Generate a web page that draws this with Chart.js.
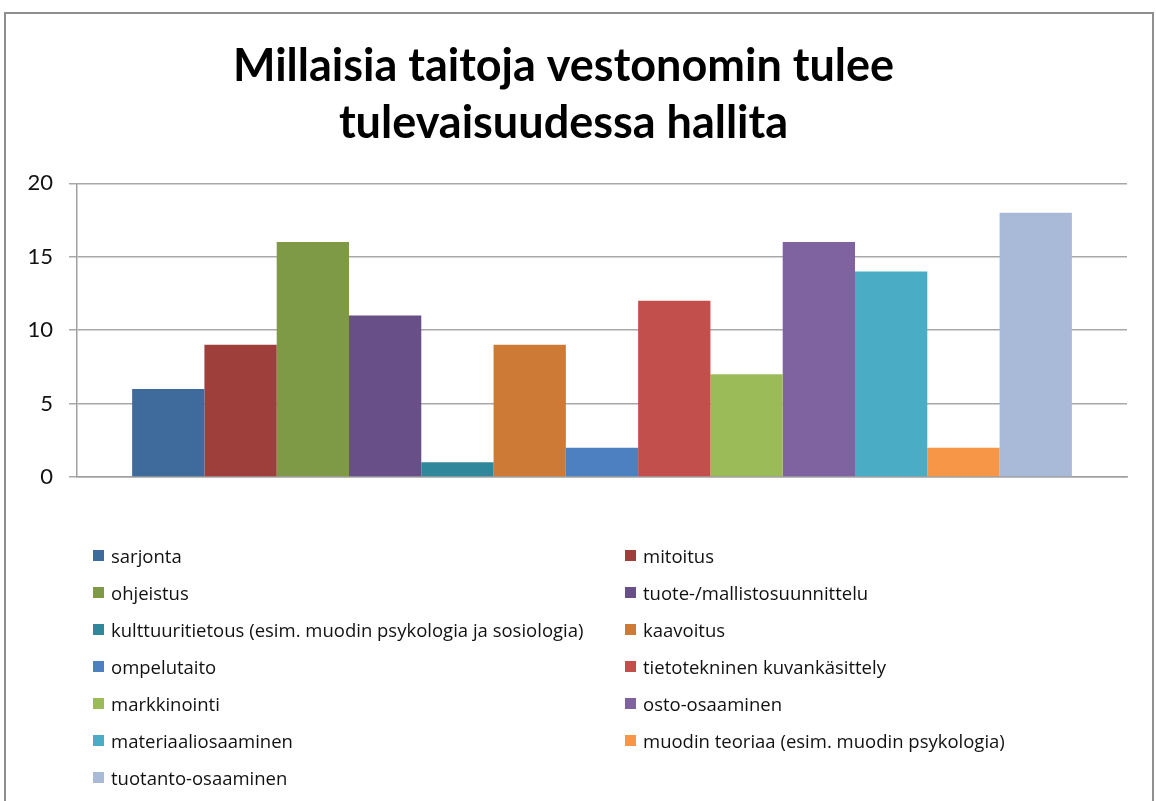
<!DOCTYPE html>
<html lang="fi">
<head>
  <meta charset="UTF-8">
  <title>Millaisia taitoja vestonomin tulee tulevaisuudessa hallita</title>
  <script src="https://cdn.jsdelivr.net/npm/chart.js"></script>
  <style>
    html, body {
      margin: 0;
      padding: 0;
      background: #ffffff;
      overflow: hidden;
    }

    #frame {
      position: absolute;
      left: 4px;
      top: 12px;
      width: 1146px;
      height: 800px;
      border: 2px solid #8f8f8f;
      border-bottom: none;
    }

    #wrap {
      position: absolute;
      left: 0;
      top: 0;
      width: 1156px;
      height: 801px;
    }

    #legend {
      position: absolute;
      left: 93px;
      top: 537px;
      display: grid;
      grid-template-columns: 532px 500px;
      grid-auto-rows: 37px;
      font-family: "Open Sans", Lato, sans-serif;
      font-size: 18.5px;
      color: #111;
    }

    #legend .item {
      display: flex;
      align-items: center;
      white-space: nowrap;
    }

    #legend .box {
      width: 11px;
      height: 11px;
      margin-right: 7px;
      flex: none;
    }
  </style>
</head>
<body>
  <div id="frame"></div>
  <div id="wrap">
    <canvas id="skillsChart" width="1156" height="801"></canvas>
  </div>
  <div id="legend"></div>

  <script>
    const titleLines = ['Millaisia taitoja vestonomin tulee', 'tulevaisuudessa hallita'];

    const skills = [
      'sarjonta',
      'mitoitus',
      'ohjeistus',
      'tuote-/mallistosuunnittelu',
      'kulttuuritietous (esim. muodin psykologia ja sosiologia)',
      'kaavoitus',
      'ompelutaito',
      'tietotekninen kuvankäsittely',
      'markkinointi',
      'osto-osaaminen',
      'materiaaliosaaminen',
      'muodin teoriaa (esim. muodin psykologia)',
      'tuotanto-osaaminen'
    ];

    const counts = [6, 9, 16, 11, 1, 9, 2, 12, 7, 16, 14, 2, 18];

    const barColors = [
      '#3f6a9c', '#9e3f3c', '#7e9a47', '#684f88', '#2f879c', '#cd7a36', '#4d80c0',
      '#c24f4c', '#9bbb59', '#7f63a1', '#4bacc6', '#f79646', '#a9b9d8'
    ];

    const yTicks = [0, 5, 10, 15, 20];

    // one dataset per skill, all in a single category
    const datasets = skills.map((name, i) => ({
      label: name,
      data: [counts[i]],
      backgroundColor: barColors[i],
      borderWidth: 0,
      categoryPercentage: 0.895,
      barPercentage: 1.0
    }));

    const chart = new Chart(document.getElementById('skillsChart'), {
      type: 'bar',
      data: {
        labels: [''],
        datasets: datasets
      },
      options: {
        responsive: false,
        animation: false,
        layout: {
          padding: { top: 12, right: 29, bottom: 316, left: 0 }
        },
        plugins: {
          legend: { display: false },
          tooltip: { enabled: false },
          title: {
            display: true,
            text: titleLines,
            color: '#000',
            font: { family: 'Lato', size: 45, weight: 'bold', lineHeight: 1.27 },
            padding: { top: 26, bottom: 31 }
          }
        },
        scales: {
          x: {
            ticks: { display: false },
            grid: { display: false },
            border: { display: true, color: '#a0a0a0', width: 1.5 }
          },
          y: {
            min: 0,
            max: 20,
            afterBuildTicks: scale => {
              scale.ticks = yTicks.map(v => ({ value: v }));
            },
            afterFit: scale => {
              scale.width = 77;
            },
            ticks: {
              color: '#111',
              padding: 16,
              font: { family: 'Lato', size: 22 }
            },
            grid: {
              color: '#a8a8a8',
              lineWidth: 1.5,
              tickLength: 8
            },
            border: { display: true, color: '#a0a0a0', width: 1.5 }
          }
        }
      }
    });

    // legend in two columns, built from the chart's own legend items
    const legendEl = document.getElementById('legend');
    chart.options.plugins.legend.labels.generateLabels(chart).forEach(item => {
      const row = document.createElement('div');
      row.className = 'item';
      const box = document.createElement('span');
      box.className = 'box';
      box.style.background = item.fillStyle;
      row.appendChild(box);
      row.appendChild(document.createTextNode(item.text));
      legendEl.appendChild(row);
    });
  </script>
</body>
</html>
